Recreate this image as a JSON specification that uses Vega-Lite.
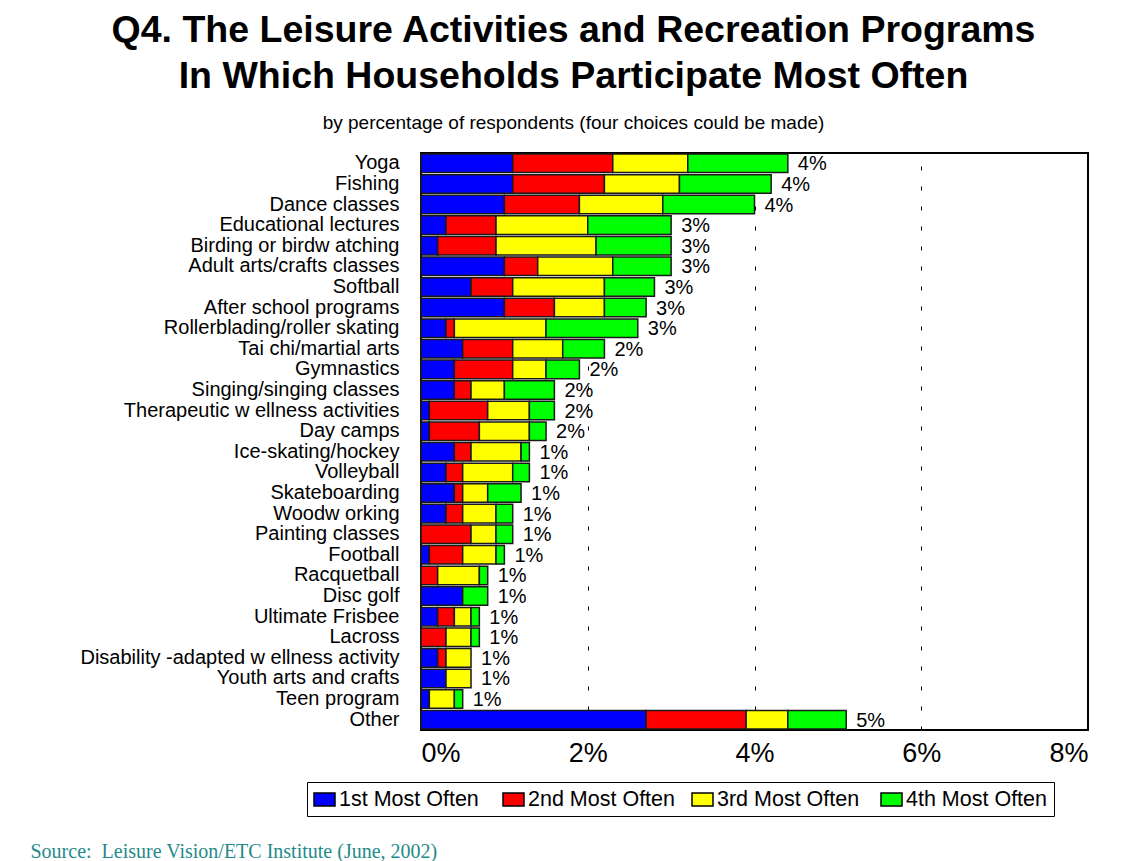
{
  "$schema": "https://vega.github.io/schema/vega-lite/v6.json",
  "width": 667,
  "height": 577,
  "autosize": "none",
  "padding": {"left": 421, "top": 153, "right": 49, "bottom": 131},
  "background": "white",
  "title": {
    "text": ["Q4. The Leisure Activities and Recreation Programs", "In Which Households Participate Most Often"],
    "subtitle": "by percentage of respondents (four choices could be made)",
    "anchor": "middle",
    "dx": -181,
    "offset": 20,
    "font": "Liberation Sans",
    "fontSize": 37.5,
    "fontWeight": "bold",
    "color": "black",
    "lineHeight": 46,
    "subtitleFont": "Liberation Sans",
    "subtitleFontSize": 19,
    "subtitleColor": "black",
    "subtitlePadding": 18
  },
  "datasets": {
    "segments": [
      {"activity": "Yoga", "rank": "1st Most Often", "value": 1.1},
      {"activity": "Yoga", "rank": "2nd Most Often", "value": 1.2},
      {"activity": "Yoga", "rank": "3rd Most Often", "value": 0.9},
      {"activity": "Yoga", "rank": "4th Most Often", "value": 1.2},
      {"activity": "Fishing", "rank": "1st Most Often", "value": 1.1},
      {"activity": "Fishing", "rank": "2nd Most Often", "value": 1.1},
      {"activity": "Fishing", "rank": "3rd Most Often", "value": 0.9},
      {"activity": "Fishing", "rank": "4th Most Often", "value": 1.1},
      {"activity": "Dance classes", "rank": "1st Most Often", "value": 1.0},
      {"activity": "Dance classes", "rank": "2nd Most Often", "value": 0.9},
      {"activity": "Dance classes", "rank": "3rd Most Often", "value": 1.0},
      {"activity": "Dance classes", "rank": "4th Most Often", "value": 1.1},
      {"activity": "Educational lectures", "rank": "1st Most Often", "value": 0.3},
      {"activity": "Educational lectures", "rank": "2nd Most Often", "value": 0.6},
      {"activity": "Educational lectures", "rank": "3rd Most Often", "value": 1.1},
      {"activity": "Educational lectures", "rank": "4th Most Often", "value": 1.0},
      {"activity": "Birding or birdw atching", "rank": "1st Most Often", "value": 0.2},
      {"activity": "Birding or birdw atching", "rank": "2nd Most Often", "value": 0.7},
      {"activity": "Birding or birdw atching", "rank": "3rd Most Often", "value": 1.2},
      {"activity": "Birding or birdw atching", "rank": "4th Most Often", "value": 0.9},
      {"activity": "Adult arts/crafts classes", "rank": "1st Most Often", "value": 1.0},
      {"activity": "Adult arts/crafts classes", "rank": "2nd Most Often", "value": 0.4},
      {"activity": "Adult arts/crafts classes", "rank": "3rd Most Often", "value": 0.9},
      {"activity": "Adult arts/crafts classes", "rank": "4th Most Often", "value": 0.7},
      {"activity": "Softball", "rank": "1st Most Often", "value": 0.6},
      {"activity": "Softball", "rank": "2nd Most Often", "value": 0.5},
      {"activity": "Softball", "rank": "3rd Most Often", "value": 1.1},
      {"activity": "Softball", "rank": "4th Most Often", "value": 0.6},
      {"activity": "After school programs", "rank": "1st Most Often", "value": 1.0},
      {"activity": "After school programs", "rank": "2nd Most Often", "value": 0.6},
      {"activity": "After school programs", "rank": "3rd Most Often", "value": 0.6},
      {"activity": "After school programs", "rank": "4th Most Often", "value": 0.5},
      {"activity": "Rollerblading/roller skating", "rank": "1st Most Often", "value": 0.3},
      {"activity": "Rollerblading/roller skating", "rank": "2nd Most Often", "value": 0.1},
      {"activity": "Rollerblading/roller skating", "rank": "3rd Most Often", "value": 1.1},
      {"activity": "Rollerblading/roller skating", "rank": "4th Most Often", "value": 1.1},
      {"activity": "Tai chi/martial arts", "rank": "1st Most Often", "value": 0.5},
      {"activity": "Tai chi/martial arts", "rank": "2nd Most Often", "value": 0.6},
      {"activity": "Tai chi/martial arts", "rank": "3rd Most Often", "value": 0.6},
      {"activity": "Tai chi/martial arts", "rank": "4th Most Often", "value": 0.5},
      {"activity": "Gymnastics", "rank": "1st Most Often", "value": 0.4},
      {"activity": "Gymnastics", "rank": "2nd Most Often", "value": 0.7},
      {"activity": "Gymnastics", "rank": "3rd Most Often", "value": 0.4},
      {"activity": "Gymnastics", "rank": "4th Most Often", "value": 0.4},
      {"activity": "Singing/singing classes", "rank": "1st Most Often", "value": 0.4},
      {"activity": "Singing/singing classes", "rank": "2nd Most Often", "value": 0.2},
      {"activity": "Singing/singing classes", "rank": "3rd Most Often", "value": 0.4},
      {"activity": "Singing/singing classes", "rank": "4th Most Often", "value": 0.6},
      {"activity": "Therapeutic w ellness activities", "rank": "1st Most Often", "value": 0.1},
      {"activity": "Therapeutic w ellness activities", "rank": "2nd Most Often", "value": 0.7},
      {"activity": "Therapeutic w ellness activities", "rank": "3rd Most Often", "value": 0.5},
      {"activity": "Therapeutic w ellness activities", "rank": "4th Most Often", "value": 0.3},
      {"activity": "Day camps", "rank": "1st Most Often", "value": 0.1},
      {"activity": "Day camps", "rank": "2nd Most Often", "value": 0.6},
      {"activity": "Day camps", "rank": "3rd Most Often", "value": 0.6},
      {"activity": "Day camps", "rank": "4th Most Often", "value": 0.2},
      {"activity": "Ice-skating/hockey", "rank": "1st Most Often", "value": 0.4},
      {"activity": "Ice-skating/hockey", "rank": "2nd Most Often", "value": 0.2},
      {"activity": "Ice-skating/hockey", "rank": "3rd Most Often", "value": 0.6},
      {"activity": "Ice-skating/hockey", "rank": "4th Most Often", "value": 0.1},
      {"activity": "Volleyball", "rank": "1st Most Often", "value": 0.3},
      {"activity": "Volleyball", "rank": "2nd Most Often", "value": 0.2},
      {"activity": "Volleyball", "rank": "3rd Most Often", "value": 0.6},
      {"activity": "Volleyball", "rank": "4th Most Often", "value": 0.2},
      {"activity": "Skateboarding", "rank": "1st Most Often", "value": 0.4},
      {"activity": "Skateboarding", "rank": "2nd Most Often", "value": 0.1},
      {"activity": "Skateboarding", "rank": "3rd Most Often", "value": 0.3},
      {"activity": "Skateboarding", "rank": "4th Most Often", "value": 0.4},
      {"activity": "Woodw orking", "rank": "1st Most Often", "value": 0.3},
      {"activity": "Woodw orking", "rank": "2nd Most Often", "value": 0.2},
      {"activity": "Woodw orking", "rank": "3rd Most Often", "value": 0.4},
      {"activity": "Woodw orking", "rank": "4th Most Often", "value": 0.2},
      {"activity": "Painting classes", "rank": "2nd Most Often", "value": 0.6},
      {"activity": "Painting classes", "rank": "3rd Most Often", "value": 0.3},
      {"activity": "Painting classes", "rank": "4th Most Often", "value": 0.2},
      {"activity": "Football", "rank": "1st Most Often", "value": 0.1},
      {"activity": "Football", "rank": "2nd Most Often", "value": 0.4},
      {"activity": "Football", "rank": "3rd Most Often", "value": 0.4},
      {"activity": "Football", "rank": "4th Most Often", "value": 0.1},
      {"activity": "Racquetball", "rank": "2nd Most Often", "value": 0.2},
      {"activity": "Racquetball", "rank": "3rd Most Often", "value": 0.5},
      {"activity": "Racquetball", "rank": "4th Most Often", "value": 0.1},
      {"activity": "Disc golf", "rank": "1st Most Often", "value": 0.5},
      {"activity": "Disc golf", "rank": "4th Most Often", "value": 0.3},
      {"activity": "Ultimate Frisbee", "rank": "1st Most Often", "value": 0.2},
      {"activity": "Ultimate Frisbee", "rank": "2nd Most Often", "value": 0.2},
      {"activity": "Ultimate Frisbee", "rank": "3rd Most Often", "value": 0.2},
      {"activity": "Ultimate Frisbee", "rank": "4th Most Often", "value": 0.1},
      {"activity": "Lacross", "rank": "2nd Most Often", "value": 0.3},
      {"activity": "Lacross", "rank": "3rd Most Often", "value": 0.3},
      {"activity": "Lacross", "rank": "4th Most Often", "value": 0.1},
      {"activity": "Disability -adapted w ellness activity", "rank": "1st Most Often", "value": 0.2},
      {"activity": "Disability -adapted w ellness activity", "rank": "2nd Most Often", "value": 0.1},
      {"activity": "Disability -adapted w ellness activity", "rank": "3rd Most Often", "value": 0.3},
      {"activity": "Youth arts and crafts", "rank": "1st Most Often", "value": 0.3},
      {"activity": "Youth arts and crafts", "rank": "3rd Most Often", "value": 0.3},
      {"activity": "Teen program", "rank": "1st Most Often", "value": 0.1},
      {"activity": "Teen program", "rank": "3rd Most Often", "value": 0.3},
      {"activity": "Teen program", "rank": "4th Most Often", "value": 0.1},
      {"activity": "Other", "rank": "1st Most Often", "value": 2.7},
      {"activity": "Other", "rank": "2nd Most Often", "value": 1.2},
      {"activity": "Other", "rank": "3rd Most Often", "value": 0.5},
      {"activity": "Other", "rank": "4th Most Often", "value": 0.7}
    ],
    "totals": [
      {"activity": "Yoga", "total": 4.4, "label": "4%"},
      {"activity": "Fishing", "total": 4.2, "label": "4%"},
      {"activity": "Dance classes", "total": 4.0, "label": "4%"},
      {"activity": "Educational lectures", "total": 3.0, "label": "3%"},
      {"activity": "Birding or birdw atching", "total": 3.0, "label": "3%"},
      {"activity": "Adult arts/crafts classes", "total": 3.0, "label": "3%"},
      {"activity": "Softball", "total": 2.8, "label": "3%"},
      {"activity": "After school programs", "total": 2.7, "label": "3%"},
      {"activity": "Rollerblading/roller skating", "total": 2.6, "label": "3%"},
      {"activity": "Tai chi/martial arts", "total": 2.2, "label": "2%"},
      {"activity": "Gymnastics", "total": 1.9, "label": "2%"},
      {"activity": "Singing/singing classes", "total": 1.6, "label": "2%"},
      {"activity": "Therapeutic w ellness activities", "total": 1.6, "label": "2%"},
      {"activity": "Day camps", "total": 1.5, "label": "2%"},
      {"activity": "Ice-skating/hockey", "total": 1.3, "label": "1%"},
      {"activity": "Volleyball", "total": 1.3, "label": "1%"},
      {"activity": "Skateboarding", "total": 1.2, "label": "1%"},
      {"activity": "Woodw orking", "total": 1.1, "label": "1%"},
      {"activity": "Painting classes", "total": 1.1, "label": "1%"},
      {"activity": "Football", "total": 1.0, "label": "1%"},
      {"activity": "Racquetball", "total": 0.8, "label": "1%"},
      {"activity": "Disc golf", "total": 0.8, "label": "1%"},
      {"activity": "Ultimate Frisbee", "total": 0.7, "label": "1%"},
      {"activity": "Lacross", "total": 0.7, "label": "1%"},
      {"activity": "Disability -adapted w ellness activity", "total": 0.6, "label": "1%"},
      {"activity": "Youth arts and crafts", "total": 0.6, "label": "1%"},
      {"activity": "Teen program", "total": 0.5, "label": "1%"},
      {"activity": "Other", "total": 5.1, "label": "5%"}
    ]
  },
  "layer": [
    {
      "data": {"name": "segments"},
      "mark": {"type": "bar", "stroke": "#1a1a1a", "strokeWidth": 1.5, "opacity": 1},
      "encoding": {
        "x": {
          "field": "value",
          "type": "quantitative",
          "stack": "zero",
          "scale": {"domain": [0, 8], "nice": false},
          "axis": {
            "values": [0, 2, 4, 6, 8],
            "labelExpr": "datum.value + '%'",
            "labelFont": "Liberation Sans",
            "labelFontSize": 27,
            "labelColor": "black",
            "labelPadding": 10,
            "ticks": false,
            "domain": false,
            "grid": true,
            "gridColor": "black",
            "gridDash": [4, 16],
            "gridWidth": 1,
            "gridOpacity": 1,
            "title": "Source:\u00a0 Leisure Vision/ETC Institute (June, 2002)",
            "titleFont": "Liberation Serif",
            "titleFontSize": 20,
            "titleFontWeight": "normal",
            "titleColor": "#1f8a8a",
            "titleAnchor": "start",
            "titleAlign": "left",
            "titleBaseline": "alphabetic",
            "titleX": -391,
            "titleY": 127
          }
        },
        "y": {
          "field": "activity",
          "type": "nominal",
          "sort": ["Yoga", "Fishing", "Dance classes", "Educational lectures", "Birding or birdw atching", "Adult arts/crafts classes", "Softball", "After school programs", "Rollerblading/roller skating", "Tai chi/martial arts", "Gymnastics", "Singing/singing classes", "Therapeutic w ellness activities", "Day camps", "Ice-skating/hockey", "Volleyball", "Skateboarding", "Woodw orking", "Painting classes", "Football", "Racquetball", "Disc golf", "Ultimate Frisbee", "Lacross", "Disability -adapted w ellness activity", "Youth arts and crafts", "Teen program", "Other"],
          "scale": {"paddingInner": 0.1, "paddingOuter": 0.05},
          "axis": {
            "title": null,
            "ticks": false,
            "domain": false,
            "labelFont": "Liberation Sans",
            "labelFontSize": 20,
            "labelColor": "black",
            "labelPadding": 22,
            "labelLimit": 400
          }
        },
        "color": {
          "field": "rank",
          "type": "nominal",
          "scale": {
            "domain": ["1st Most Often", "2nd Most Often", "3rd Most Often", "4th Most Often"],
            "range": ["#0000FF", "#FF0000", "#FFFF00", "#00FF00"]
          },
          "legend": {
            "orient": "none",
            "legendX": -114,
            "legendY": 629,
            "direction": "horizontal",
            "columns": 4,
            "title": null,
            "symbolType": "M-1,-0.62H1V0.62H-1Z",
            "symbolSize": 441,
            "symbolStrokeColor": "black",
            "symbolStrokeWidth": 1.5,
            "symbolOpacity": 1,
            "labelFont": "Liberation Sans",
            "labelFontSize": 21.5,
            "labelColor": "black",
            "labelOffset": 3,
            "labelLimit": 300,
            "columnPadding": 14,
            "gridAlign": "all",
            "padding": 6,
            "strokeColor": "black",
            "fillColor": "white"
          }
        },
        "order": {"field": "rank", "sort": "ascending"}
      }
    },
    {
      "data": {"name": "totals"},
      "mark": {"type": "text", "align": "left", "baseline": "middle", "dx": 10, "dy": 1, "font": "Liberation Sans", "fontSize": 20, "color": "black"},
      "encoding": {
        "x": {"field": "total", "type": "quantitative"},
        "y": {
          "field": "activity",
          "type": "nominal",
          "sort": ["Yoga", "Fishing", "Dance classes", "Educational lectures", "Birding or birdw atching", "Adult arts/crafts classes", "Softball", "After school programs", "Rollerblading/roller skating", "Tai chi/martial arts", "Gymnastics", "Singing/singing classes", "Therapeutic w ellness activities", "Day camps", "Ice-skating/hockey", "Volleyball", "Skateboarding", "Woodw orking", "Painting classes", "Football", "Racquetball", "Disc golf", "Ultimate Frisbee", "Lacross", "Disability -adapted w ellness activity", "Youth arts and crafts", "Teen program", "Other"]
        },
        "text": {"field": "label"}
      }
    }
  ],
  "config": {
    "view": {"stroke": "black", "strokeWidth": 2}
  }
}
